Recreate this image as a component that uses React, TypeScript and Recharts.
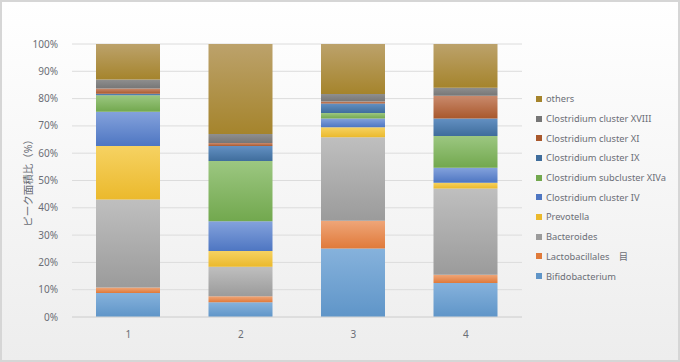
import React from "react";
import { BarChart, Bar, XAxis, YAxis, CartesianGrid } from "recharts";

const samples = ["1", "2", "3", "4"];

// stacked from bottom to top, % of peak area
const bifidobacterium = [8.8, 5.4, 25.1, 12.5];
const lactobacillales = [2.0, 2.2, 10.2, 3.0];
const bacteroides = [32.2, 10.8, 30.5, 31.6];
const prevotella = [19.6, 5.8, 3.7, 2.1];
const clostridiumIV = [12.6, 10.9, 3.2, 5.5];
const clostridiumXIVa = [6.0, 22.0, 2.0, 11.6];
const clostridiumIX = [0.6, 5.5, 3.5, 6.4];
const clostridiumXI = [1.9, 1.1, 0.7, 8.3];
const clostridiumXVIII = [3.3, 3.3, 2.8, 3.0];
const others = [13.0, 33.0, 18.3, 16.0];

const yTicks = [0, 0.1, 0.2, 0.3, 0.4, 0.5, 0.6, 0.7, 0.8, 0.9, 1];

const series = [
  { key: "bifido", name: "Bifidobacterium", values: bifidobacterium, top: "#86b2dc", bottom: "#5f95c8" },
  { key: "lacto", name: "Lactobacillales\u3000\u76ee", values: lactobacillales, top: "#efa679", bottom: "#e07a3a" },
  { key: "bact", name: "Bacteroides", values: bacteroides, top: "#bfbfbf", bottom: "#9b9b9b" },
  { key: "prev", name: "Prevotella", values: prevotella, top: "#f6d262", bottom: "#ebb92c" },
  { key: "c4", name: "Clostridium cluster IV", values: clostridiumIV, top: "#84a2dc", bottom: "#4e76c2" },
  { key: "c14a", name: "Clostridium subcluster XIVa", values: clostridiumXIVa, top: "#9cc781", bottom: "#72a84e" },
  { key: "c9", name: "Clostridium cluster IX", values: clostridiumIX, top: "#6390c2", bottom: "#3f6d9c" },
  { key: "c11", name: "Clostridium cluster XI", values: clostridiumXI, top: "#c98a6d", bottom: "#a9582c" },
  { key: "c18", name: "Clostridium cluster XVIII", values: clostridiumXVIII, top: "#8f8f8f", bottom: "#767676" },
  { key: "others", name: "others", values: others, top: "#bca26b", bottom: "#a5842c" },
];

const data = samples.map((s, i) => {
  const row: Record<string, string | number> = { name: s };
  series.forEach((sr) => {
    row[sr.key] = sr.values[i];
  });
  return row;
});

const textColor = "#6b6e76";
const font = "'Noto Sans', 'Noto Sans CJK JP', sans-serif";

const App = () => {
  return (
    <div
      style={{
        position: "relative",
        width: 680,
        height: 362,
        boxSizing: "border-box",
        border: "2px solid #d6d6d6",
        background: "linear-gradient(to bottom, #ffffff 0%, #f7f7f7 45%, #ededed 100%)",
        fontFamily: font,
      }}
    >
      <style>{`body{margin:0}`}</style>
      <BarChart
        width={676}
        height={358}
        data={data}
        stackOffset="expand"
        barSize={64}
        style={{ position: "absolute", left: 0, top: 0 }}
        margin={{ top: 42, right: 156, left: 30, bottom: 13 }}
      >
        <defs>
          {series.map((sr) => (
            <linearGradient key={sr.key} id={`g-${sr.key}`} x1="0" y1="0" x2="0" y2="1">
              <stop offset="0%" stopColor={sr.top} />
              <stop offset="100%" stopColor={sr.bottom} />
            </linearGradient>
          ))}
        </defs>
        <CartesianGrid vertical={false} stroke="#dcdcdc" />
        <XAxis
          dataKey="name"
          axisLine={{ stroke: "#d6d6d6" }}
          tickLine={false}
          tickMargin={8}
          tick={{ fill: textColor, fontSize: 10, fontFamily: font }}
        />
        <YAxis
          width={40}
          domain={[0, 1]}
          ticks={yTicks}
          interval={0}
          axisLine={false}
          tickLine={false}
          tickMargin={8}
          tickFormatter={(v: number) => `${Math.round(v * 100)}%`}
          tick={{ fill: textColor, fontSize: 10, fontFamily: font }}
          label={{
            value: "ピーク面積比（%）",
            angle: -90,
            position: "insideLeft",
            offset: -4,
            style: { fill: textColor, fontSize: 10.5, fontFamily: font, textAnchor: "middle" },
          }}
        />
        {series.map((sr) => (
          <Bar
            key={sr.key}
            dataKey={sr.key}
            name={sr.name}
            stackId="a"
            fill={`url(#g-${sr.key})`}
            isAnimationActive={false}
          />
        ))}
      </BarChart>
      <div style={{ position: "absolute", left: 534, top: 87, fontSize: 9.3, color: textColor }}>
        {[...series].reverse().map((sr) => (
          <div key={sr.key} style={{ height: 19.7, display: "flex", alignItems: "center", whiteSpace: "nowrap" }}>
            <span style={{ display: "inline-block", width: 6, height: 6, background: sr.bottom, marginRight: 4 }} />
            {sr.name}
          </div>
        ))}
      </div>
    </div>
  );
};

export default App;
